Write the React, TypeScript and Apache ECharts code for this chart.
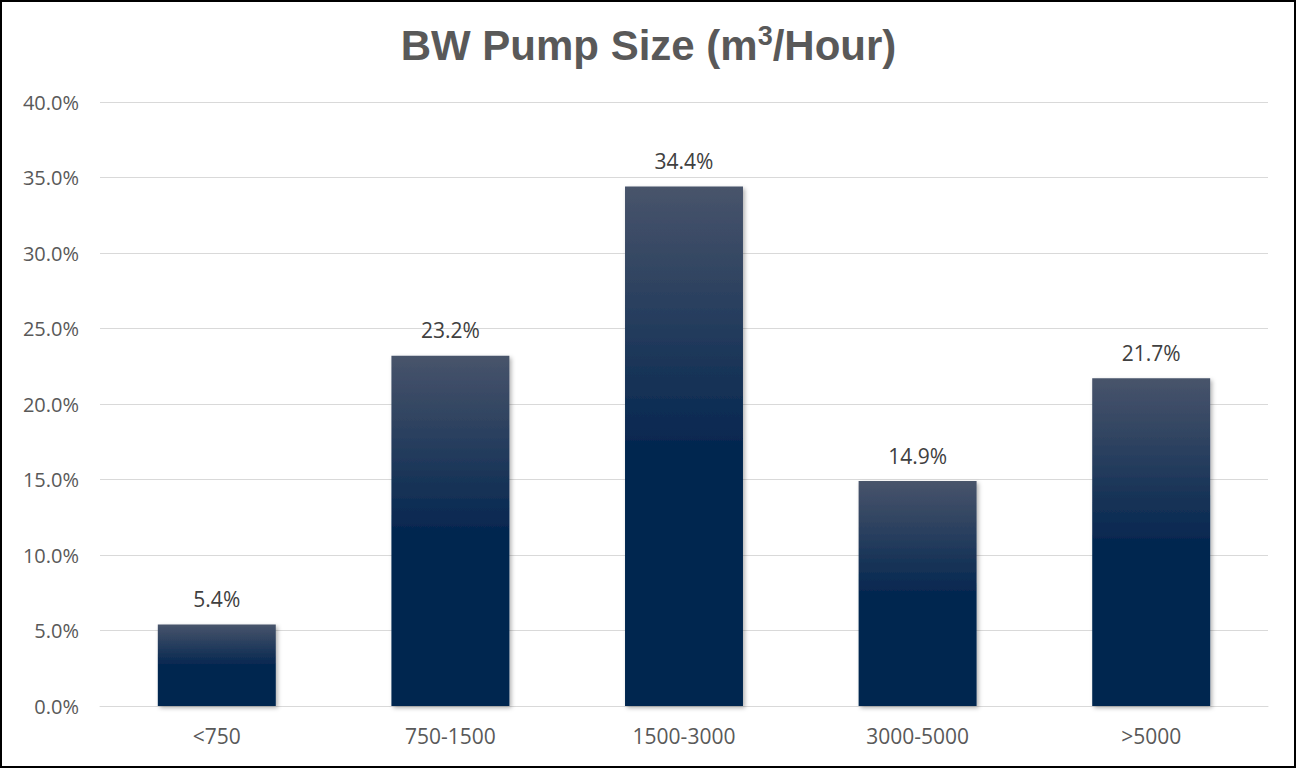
import React, { useEffect, useRef } from "react";
import * as echarts from "echarts";

const categories = ["<750", "750-1500", "1500-3000", "3000-5000", ">5000"];
const shares = [5.4, 23.2, 34.4, 14.9, 21.7];
const titleText = "BW Pump Size (m{sup|3}/Hour)";

export default function App() {
  const ref = useRef<HTMLDivElement>(null);
  useEffect(() => {
    const chart = echarts.init(ref.current!, undefined, { renderer: "svg" });
    const titleFont = {
      fontFamily: "Liberation Sans, Arial, sans-serif",
      fontWeight: "bold",
      color: "#595959",
    };
    chart.setOption({
      animation: false,
      backgroundColor: "#ffffff",
      title: {
        text: titleText,
        left: "center",
        top: 17,
        textStyle: {
          ...titleFont,
          fontSize: 42,
          lineHeight: 46,
          rich: {
            sup: { ...titleFont, fontSize: 27, verticalAlign: "top", lineHeight: 46, padding: [0, 0, 14, 0] },
          },
        },
      },
      graphic: [
        {
          type: "rect",
          shape: { x: 1, y: 1, width: 1294, height: 766 },
          style: { fill: "none", stroke: "#000", lineWidth: 2 },
          silent: true,
        },
      ],
      grid: { left: 100, right: 29, top: 102, bottom: 63, containLabel: false },
      xAxis: {
        type: "category",
        data: categories,
        axisLine: { show: true, lineStyle: { color: "#d9d9d9", width: 1 } },
        axisTick: { show: false },
        axisLabel: {
          color: "#595959",
          fontSize: 21,
          fontFamily: "Open Sans, Liberation Sans, sans-serif",
          margin: 19,
        },
      },
      yAxis: {
        type: "value",
        min: 0,
        max: 40,
        interval: 5,
        axisLine: { show: false },
        axisTick: { show: false },
        splitLine: { lineStyle: { color: "#d9d9d9", width: 1 } },
        axisLabel: {
          color: "#595959",
          fontSize: 20,
          fontFamily: "Open Sans, Liberation Sans, sans-serif",
          margin: 21,
          formatter: (v: number) => v.toFixed(1) + "%",
        },
      },
      series: [
        {
          type: "bar",
          data: shares,
          barWidth: "50.5%",
          itemStyle: {
            color: new echarts.graphic.LinearGradient(0, 0, 0, 1, [
              { offset: 0, color: "#48546b" },
              { offset: 0.5, color: "#052750" },
              { offset: 1, color: "#022550" },
            ]),
            shadowColor: "rgba(0,0,0,0.3)",
            shadowBlur: 4,
            shadowOffsetX: 2,
            shadowOffsetY: 2,
          },
          label: {
            show: true,
            position: "top",
            distance: 15,
            color: "#404040",
            fontSize: 21,
            fontFamily: "Open Sans, Liberation Sans, sans-serif",
            formatter: (p: any) => Number(p.value).toFixed(1) + "%",
          },
        },
      ],
    });
    return () => chart.dispose();
  }, []);
  return (
    <div
      ref={ref}
      style={{ position: "absolute", left: 0, top: 0, width: 1297, height: 769 }}
    />
  );
}
